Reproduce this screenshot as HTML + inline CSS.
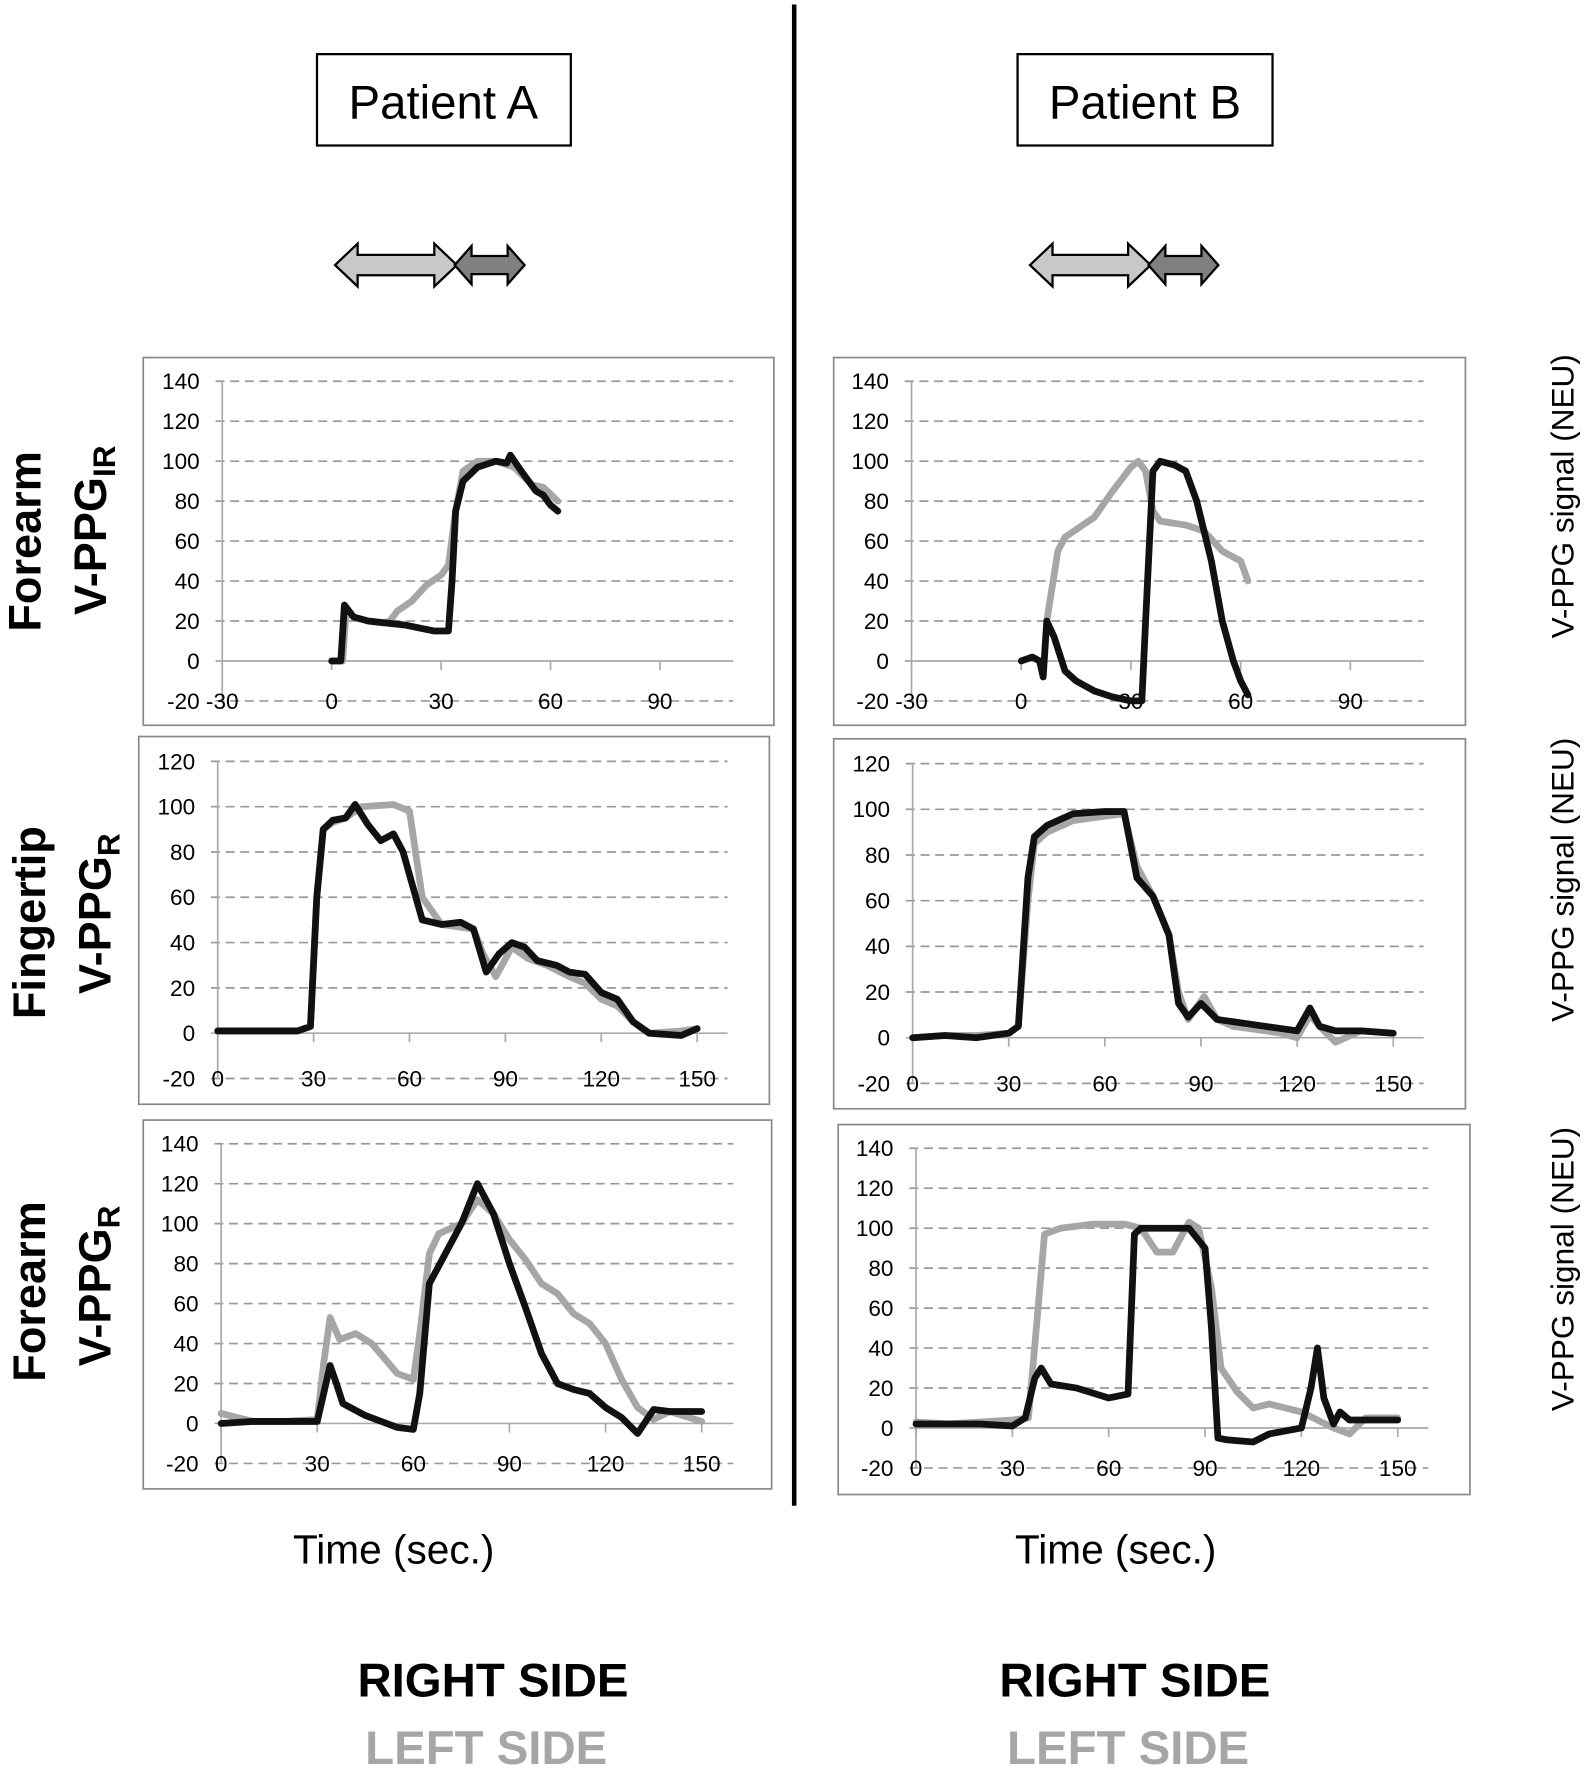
<!DOCTYPE html>
<html><head><meta charset="utf-8"><style>
html,body{margin:0;padding:0;background:#fff;}
svg{display:block;font-family:"Liberation Sans",sans-serif;}
</style></head><body>
<svg id="fig" width="1585" height="1772" viewBox="0 0 1405 1571" preserveAspectRatio="none" xmlns="http://www.w3.org/2000/svg">
<rect width="1405" height="1571" fill="#fff"/>
<line x1="704" y1="4" x2="704" y2="1335" stroke="#000" stroke-width="4"/>
<g><rect x="281" y="48" width="225" height="81" fill="#fff" stroke="#000" stroke-width="2"/><text x="393" y="105" font-size="42" text-anchor="middle">Patient A</text></g>
<g><rect x="902" y="48" width="226" height="81" fill="#fff" stroke="#000" stroke-width="2"/><text x="1015" y="105" font-size="42" text-anchor="middle">Patient B</text></g>
<g>
<polygon points="297,235 317,216 317,226 385,226 385,216 405,235 385,254 385,244 317,244 317,254" fill="#c8c8c8" stroke="#000" stroke-width="2"/>
<polygon points="403,235 418,218 418,227 450,227 450,218 465,235 450,252 450,243 418,243 418,252" fill="#808080" stroke="#000" stroke-width="2"/></g>
<g>
<polygon points="913,235 933,216 933,226 1000,226 1000,216 1020,235 1000,254 1000,244 933,244 933,254" fill="#c8c8c8" stroke="#000" stroke-width="2"/>
<polygon points="1018,235 1033,218 1033,227 1065,227 1065,218 1080,235 1065,252 1065,243 1033,243 1033,252" fill="#808080" stroke="#000" stroke-width="2"/></g>
<g id="panels"></g>
<g font-weight="bold" font-size="40" text-anchor="middle">
<text transform="translate(36,480) rotate(-90)">Forearm</text>
<text transform="translate(94,470) rotate(-90)">V-PPG<tspan font-size="28" dy="8">IR</tspan></text>
<text transform="translate(40,818) rotate(-90)">Fingertip</text>
<text transform="translate(98,810) rotate(-90)">V-PPG<tspan font-size="28" dy="8">R</tspan></text>
<text transform="translate(40,1145) rotate(-90)">Forearm</text>
<text transform="translate(98,1140) rotate(-90)">V-PPG<tspan font-size="28" dy="8">R</tspan></text>
</g>
<g font-size="28" text-anchor="middle">
<text transform="translate(1395,440) rotate(-90)">V-PPG signal (NEU)</text>
<text transform="translate(1395,780) rotate(-90)">V-PPG signal (NEU)</text>
<text transform="translate(1395,1125) rotate(-90)">V-PPG signal (NEU)</text>
</g>
<text x="349" y="1386" font-size="36" text-anchor="middle">Time (sec.)</text>
<text x="989" y="1386" font-size="36" text-anchor="middle">Time (sec.)</text>
<g font-weight="bold" font-size="42" text-anchor="middle">
<text x="437" y="1504">RIGHT SIDE</text>
<text x="431" y="1564" fill="#a6a6a6">LEFT SIDE</text>
<text x="1006" y="1504">RIGHT SIDE</text>
<text x="1000" y="1564" fill="#a6a6a6">LEFT SIDE</text>
</g>
</svg>
<script>
// Panel A1 data
const a1Gray = [[0,0],[3,0],[4,25],[6,22],[10,20],[14,19],[16,20],[18,25],[22,30],[26,38],[30,43],[32,48],[34,75],[36,95],[40,100],[45,100],[50,97],[55,88],[58,87],[62,80]];
const a1Black = [[0,0],[2.5,0],[3.5,28],[6,22],[10,20],[20,18],[28,15],[32,15],[33,40],[34,75],[36,90],[40,97],[45,100],[48,99],[49,103],[52,95],[56,85],[58,83],[60,78],[62,75]];
// Panel B1 data
const b1Gray = [[7,20],[10,55],[12,62],[20,72],[25,85],[30,97],[32,100],[34,95],[36,75],[38,70],[45,68],[50,65],[55,55],[60,50],[62,40]];
const b1Black = [[0,0],[3,2],[5,0],[6,-8],[7,20],[9,12],[12,-5],[15,-10],[20,-15],[25,-18],[30,-20],[33,-20],[34,20],[36,95],[38,100],[42,98],[45,95],[48,80],[52,50],[55,20],[58,0],[60,-10],[62,-17]];
// Panel A2 data
const a2Gray = [[0,1],[10,1],[25,1],[29,3],[31,60],[33,90],[36,93],[40,95],[45,100],[55,101],[60,98],[64,60],[70,48],[75,47],[80,46],[83,35],[87,25],[92,38],[97,33],[103,30],[110,25],[115,22],[120,15],[125,12],[130,5],[135,0],[145,1],[150,2]];
const a2Black = [[0,1],[10,1],[25,1],[29,3],[31,60],[33,90],[36,94],[40,95],[43,101],[47,92],[51,85],[55,88],[58,80],[61,65],[64,50],[70,48],[76,49],[80,46],[84,27],[88,35],[92,40],[96,38],[100,32],[106,30],[110,27],[115,26],[120,18],[125,15],[130,5],[135,0],[145,-1],[150,2]];
// Panel B2 data
const b2Gray = [[0,0],[10,1],[20,1],[30,2],[33,5],[36,60],[38,85],[42,90],[50,95],[60,97],[66,98],[70,75],[75,62],[80,45],[83,20],[86,8],[91,18],[95,8],[100,5],[110,3],[115,2],[120,0],[124,10],[127,5],[132,-2],[140,3],[150,2]];
const b2Black = [[0,0],[10,1],[20,0],[30,2],[33,5],[36,70],[38,88],[42,93],[50,98],[60,99],[66,99],[70,70],[75,62],[80,45],[83,15],[86,9],[90,15],[95,8],[100,7],[110,5],[115,4],[120,3],[124,13],[127,5],[132,3],[140,3],[150,2]];
// Panel A3 data
const a3Gray = [[0,5],[5,3],[10,1],[20,1],[30,2],[32,30],[34,53],[37,42],[42,45],[47,40],[55,25],[60,22],[62,45],[65,85],[68,95],[75,100],[80,112],[85,105],[90,92],[95,82],[100,70],[105,65],[110,55],[115,50],[120,40],[125,22],[130,8],[135,2],[140,6],[150,1]];
const a3Black = [[0,0],[10,1],[20,1],[30,1],[32,15],[34,29],[36,20],[38,10],[45,4],[55,-2],[60,-3],[62,15],[65,70],[70,85],[75,100],[80,120],[85,105],[90,80],[95,58],[100,35],[105,20],[110,17],[115,15],[120,8],[125,3],[130,-5],[135,7],[140,6],[150,6]];
// Panel B3 data
const b3Gray = [[0,3],[10,2],[20,3],[30,4],[35,5],[38,60],[40,97],[45,100],[55,102],[65,102],[70,100],[75,88],[80,88],[85,103],[88,100],[92,70],[95,30],[100,18],[105,10],[110,12],[115,10],[120,8],[125,4],[130,0],[135,-3],[140,5],[150,5]];
const b3Black = [[0,2],[10,2],[20,2],[30,1],[34,5],[37,25],[39,30],[42,22],[50,20],[60,15],[66,17],[68,97],[70,100],[80,100],[85,100],[90,90],[92,50],[94,-5],[97,-6],[105,-7],[110,-3],[120,0],[123,20],[125,40],[127,15],[130,2],[132,8],[135,4],[140,4],[150,4]];
const yTicks140 = [-20,0,20,40,60,80,100,120,140];
const yTicks120 = [-20,0,20,40,60,80,100,120];
const xTicksShort = [-30,0,30,60,90];
const xTicksLong = [0,30,60,90,120,150];

const NS = 'http://www.w3.org/2000/svg';
const root = document.getElementById('panels');
function mk(tag, attrs, parent){const e=document.createElementNS(NS,tag);for(const k in attrs)e.setAttribute(k,attrs[k]);parent.appendChild(e);return e;}

const panels = [
 {id:'a1',box:[127,317,559,326],x0:-30,px0:197,x1:90,px1:585,y0:0,py0:586,y1:140,py1:338,gridR:650,yt:yTicks140,xt:xTicksShort,axisX:197,g:a1Gray,b:a1Black},
 {id:'b1',box:[739,317,560,326],x0:-30,px0:808,x1:90,px1:1197,y0:0,py0:586,y1:140,py1:338,gridR:1262,yt:yTicks140,xt:xTicksShort,axisX:808,g:b1Gray,b:b1Black},
 {id:'a2',box:[123,653,559,326],x0:0,px0:193,x1:150,px1:618,y0:0,py0:916,y1:120,py1:675,gridR:645,yt:yTicks120,xt:xTicksLong,axisX:193,g:a2Gray,b:a2Black},
 {id:'b2',box:[739,655,560,328],x0:0,px0:809,x1:150,px1:1235,y0:0,py0:920,y1:120,py1:677,gridR:1262,yt:yTicks120,xt:xTicksLong,axisX:809,g:b2Gray,b:b2Black},
 {id:'a3',box:[127,993,557,327],x0:0,px0:196,x1:150,px1:622,y0:0,py0:1262,y1:140,py1:1014,gridR:650,yt:yTicks140,xt:xTicksLong,axisX:196,g:a3Gray,b:a3Black},
 {id:'b3',box:[743,997,560,328],x0:0,px0:812,x1:150,px1:1239,y0:0,py0:1266,y1:140,py1:1018,gridR:1266,yt:yTicks140,xt:xTicksLong,axisX:812,g:b3Gray,b:b3Black}
];
panels.forEach(p=>{
 const X=v=>p.px0+(v-p.x0)*(p.px1-p.px0)/(p.x1-p.x0);
 const Y=v=>p.py0+(v-p.y0)*(p.py1-p.py0)/(p.y1-p.y0);
 const g=mk('g',{},root);
 
 
 const r=mk('rect',{x:p.box[0],y:p.box[1],width:p.box[2],height:p.box[3],fill:'#fff',stroke:'#888','stroke-width':1.5},g);
 
 
 p.yt.forEach(t=>{
  if(t!==0){const l=mk('line',{x1:p.axisX-6,x2:p.gridR,y1:Y(t),y2:Y(t),stroke:'#999','stroke-width':1.5,'stroke-dasharray':'8,5'},g);
   
   }
  const tx=mk('text',{x:p.axisX-20,y:Y(t)+7,'font-size':20,'text-anchor':'end'},g);
  
  
  tx.textContent=t;
 });
 const ax=mk('line',{x1:p.axisX,x2:p.axisX,y1:Y(p.yt[p.yt.length-1]),y2:Y(p.yt[0]),stroke:'#aaa','stroke-width':1.5},g);
 
 
 const xa=mk('line',{x1:p.axisX-6,x2:p.gridR,y1:Y(0),y2:Y(0),stroke:'#aaa','stroke-width':1.5},g);
 
 
 p.xt.forEach(t=>{
  mk('line',{x1:X(t),x2:X(t),y1:Y(0),y2:Y(0)+8,stroke:'#aaa','stroke-width':1.5},g);
  const tx=mk('text',{x:X(t),y:Y(p.yt[0])+7,'font-size':20,'text-anchor':'middle'},g);
  
  
  tx.textContent=t;
 });
 [[p.g,'#a6a6a6','left-side-line'],[p.b,'#111','right-side-line']].forEach(([d,c,n])=>{
  const pl=mk('polyline',{points:d.map(q=>X(q[0]).toFixed(1)+','+Y(q[1]).toFixed(1)).join(' '),fill:'none',stroke:c,'stroke-width':6,'stroke-linejoin':'round','stroke-linecap':'round'},g);
  
  
 });
});
</script>
</body></html>
